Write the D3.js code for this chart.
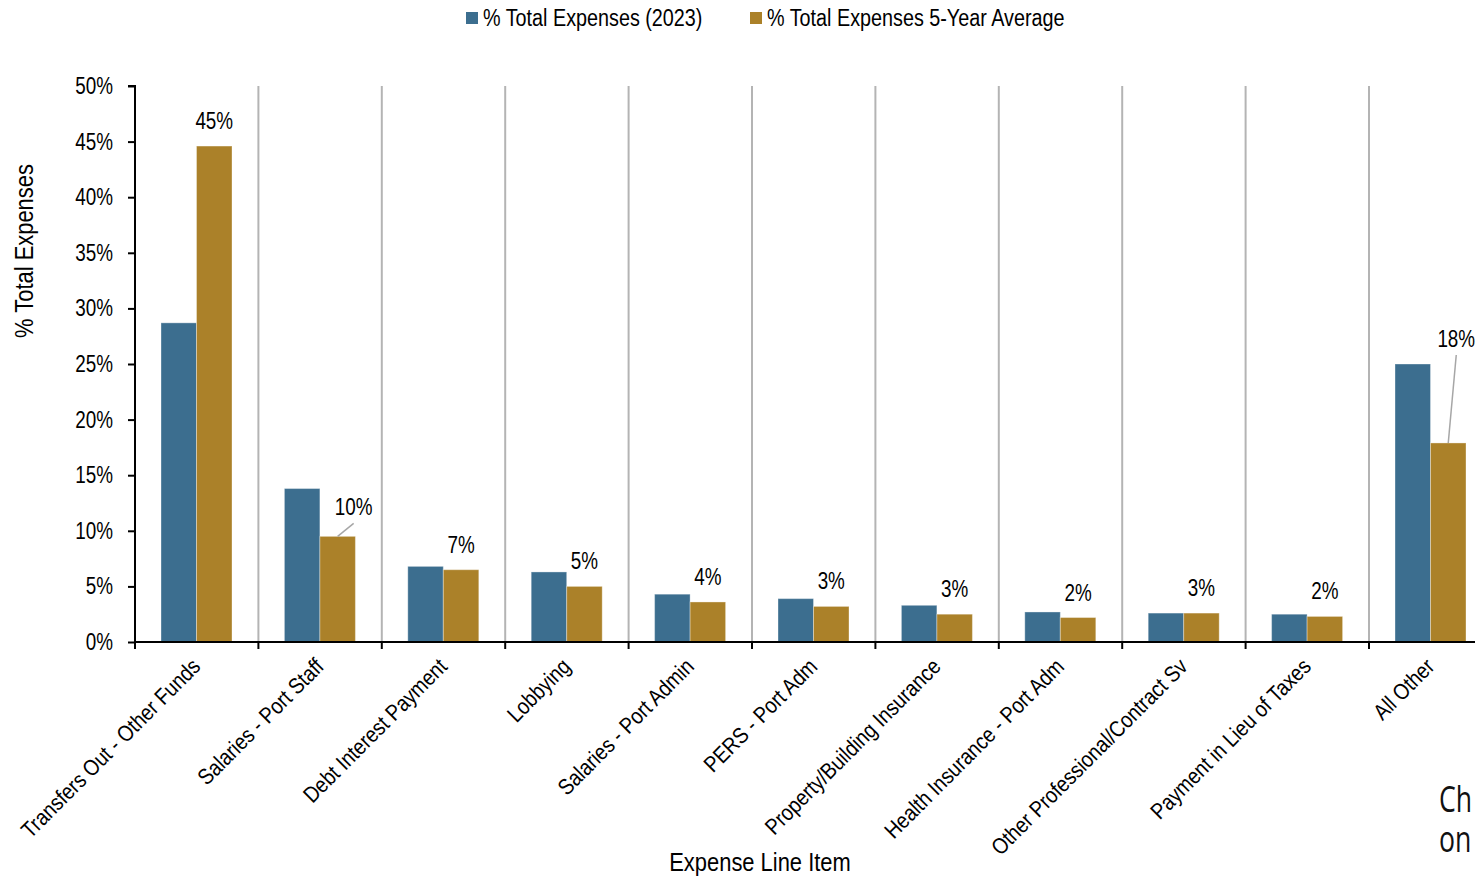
<!DOCTYPE html>
<html>
<head>
<meta charset="utf-8">
<script src="https://cdn.jsdelivr.net/npm/d3@7/dist/d3.min.js"></script>
<style>
  body { margin: 0; background: #fff; overflow: hidden; }
  text { font-family: "Liberation Sans Narrow", "Arial Narrow", "Liberation Sans", Arial, sans-serif; fill: #000; }
</style>
</head>
<body>
<div id="chart"></div>
<script>
var categories = ["Transfers Out - Other Funds", "Salaries - Port Staff", "Debt Interest Payment", "Lobbying",
    "Salaries - Port Admin", "PERS - Port Adm", "Property/Building Insurance", "Health Insurance - Port Adm",
    "Other Professional/Contract Sv", "Payment in Lieu of Taxes", "All Other"];
var pct2023 = [28.7, 13.8, 6.8, 6.3, 4.3, 3.9, 3.3, 2.7, 2.6, 2.5, 25.0];
var pctAvg = [44.6, 9.5, 6.5, 5.0, 3.6, 3.2, 2.5, 2.2, 2.6, 2.3, 17.9];
var seriesNames = ["% Total Expenses (2023)", "% Total Expenses 5-Year Average"];
var yTicks = [0, 5, 10, 15, 20, 25, 30, 35, 40, 45, 50];

var colors = ["#3c6e8f", "#ab8129"];
var narrow = 0.86; // squeeze regular sans to look like Arial Narrow

var width = 1475, height = 876;
var svg = d3.select("#chart").append("svg")
    .attr("width", width)
    .attr("height", height);

// draws a narrow text at (x,y), optionally rotated
function narrowText(parent, x, y, rot, str, size, anchor, sx) {
    var g = parent.append("g")
        .attr("transform", "translate(" + x + "," + y + ")" + (rot ? " rotate(" + rot + ")" : "") + " scale(" + (sx || narrow) + ",1)");
    return g.append("text")
        .attr("text-anchor", anchor || "start")
        .style("font-size", size + "px")
        .text(str);
}

// scales
var x0 = d3.scaleBand().domain(categories).range([135, 135 + 11 * 123.4]).padding(0);
var x1 = d3.scaleBand().domain([0, 1]).range([26, 97]).padding(0);
var y = d3.scaleLinear().domain([0, 50]).range([642, 86]);

// vertical separators between categories
svg.append("g").selectAll("line")
    .data(categories.slice(1))
    .enter().append("line")
    .attr("x1", function(d) { return x0(d); })
    .attr("x2", function(d) { return x0(d); })
    .attr("y1", y(50))
    .attr("y2", y(0))
    .style("stroke", "#b4b4b4")
    .style("stroke-width", 2);

// bars
var rows = categories.map(function(c, i) { return { cat: c, vals: [pct2023[i], pctAvg[i]] }; });
var group = svg.append("g").selectAll("g")
    .data(rows)
    .enter().append("g")
    .attr("transform", function(d) { return "translate(" + x0(d.cat) + ",0)"; });

group.selectAll("rect")
    .data(function(d) { return d.vals.map(function(v, k) { return { k: k, v: v }; }); })
    .enter().append("rect")
    .attr("x", function(d) { return x1(d.k); })
    .attr("width", x1.bandwidth())
    .attr("y", function(d) { return y(d.v); })
    .attr("height", function(d) { return y(0) - y(d.v); })
    .attr("fill", function(d) { return colors[d.k]; })
    .style("stroke", "rgba(255,255,255,0.35)")
    .style("stroke-width", 1);

// data labels on the 5-year average (two of them moved with a leader line)
var labelOffsets = { 1: [16, -29], 10: [8, -104] };
var labels = svg.append("g");
rows.forEach(function(d, i) {
    var cx = x0(d.cat) + x1(1) + x1.bandwidth() / 2;
    var top = y(d.vals[1]);
    var off = labelOffsets[i];
    var lx = cx, ly = top - 25;
    if (off) {
        lx = cx + off[0];
        ly = top + off[1];
        labels.append("line")
            .attr("x1", lx).attr("y1", ly + 16)
            .attr("x2", cx).attr("y2", top)
            .style("stroke", "#a6a6a6").style("stroke-width", 1.5);
    }
    narrowText(labels, lx, ly + 8, 0, Math.round(d.vals[1]) + "%", 23, "middle", 0.82);
});

// y axis
var yAxis = svg.append("g")
    .attr("transform", "translate(135,0)")
    .call(d3.axisLeft(y).tickValues(yTicks).tickSize(7).tickFormat(""));
yAxis.select(".domain").attr("d", "M-7," + y(50) + "H0V" + y(0)).style("stroke", "#000").style("stroke-width", 2);
yAxis.selectAll(".tick line").style("stroke", "#000").style("stroke-width", 2);
yTicks.forEach(function(t) {
    narrowText(svg, 113, y(t) + 8, 0, t + "%", 23, "end", 0.82);
});

// x axis
var bounds = categories.map(function(c) { return x0(c); });
var xAxis = svg.append("g");
xAxis.append("line")
    .attr("x1", 135).attr("x2", width)
    .attr("y1", y(0)).attr("y2", y(0))
    .style("stroke", "#000").style("stroke-width", 2);
xAxis.selectAll(".xt")
    .data(bounds)
    .enter().append("line")
    .attr("x1", function(d) { return d; })
    .attr("x2", function(d) { return d; })
    .attr("y1", y(0))
    .attr("y2", y(0) + 7)
    .style("stroke", "#000").style("stroke-width", 2);

categories.forEach(function(c) {
    var cx = x0(c) + x0.bandwidth() / 2 + 5;
    narrowText(xAxis, cx, y(0) + 26, -45, c, 22.5, "end");
});

// axis titles
narrowText(svg, 33, 251, -90, "% Total Expenses", 25.5, "middle");
narrowText(svg, 760, 871, 0, "Expense Line Item", 25.5, "middle");

// legend
var legendX = [466, 750];
seriesNames.forEach(function(name, i) {
    svg.append("rect")
        .attr("x", legendX[i]).attr("y", 12)
        .attr("width", 12).attr("height", 12)
        .attr("fill", colors[i]);
    narrowText(svg, legendX[i] + 17, 26, 0, name, 23, "start");
});

// clipped text from the page on the right
["Ch", "on"].forEach(function(s, i) {
    svg.append("g")
        .attr("transform", "translate(1439," + (812 + i * 40) + ") scale(0.72,1)")
        .append("text")
        .style("font-family", "'Open Sans', 'Noto Sans', sans-serif")
        .style("font-size", "37px")
        .style("fill", "#111")
        .text(s);
});
</script>
</body>
</html>
